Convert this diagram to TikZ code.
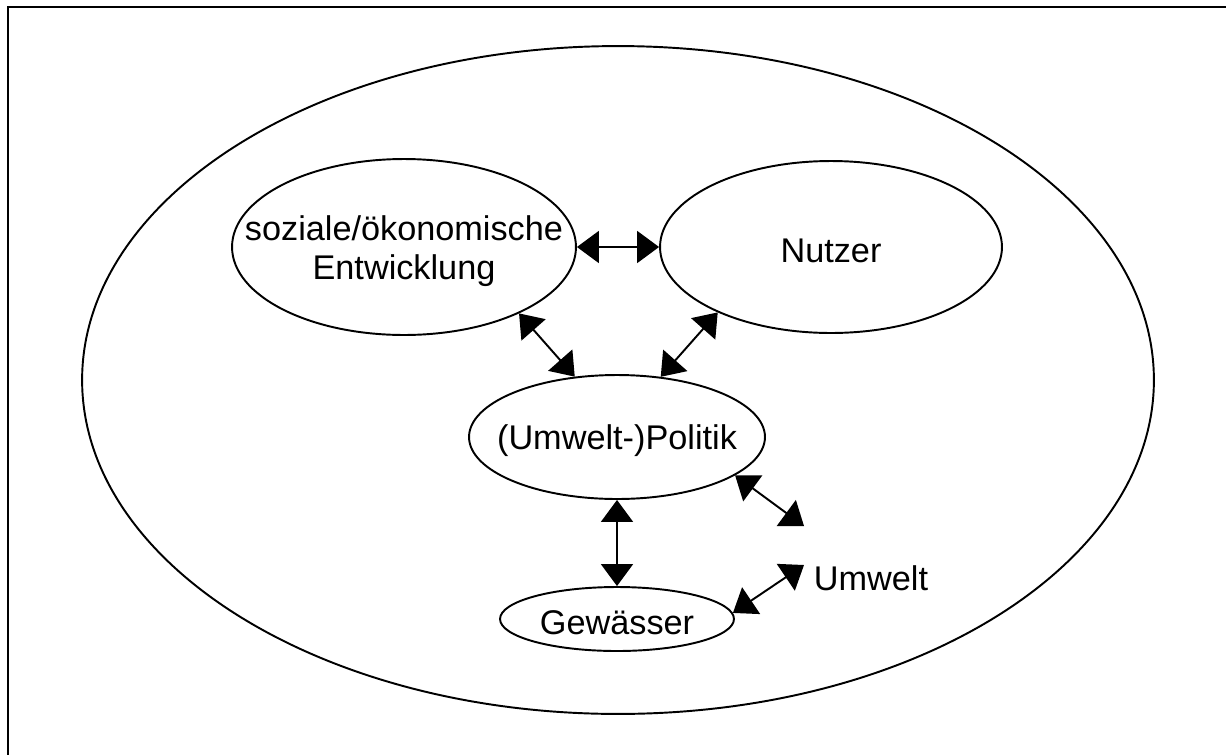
\documentclass[tikz,border=0pt]{standalone}
\usepackage{fontspec}
\setmainfont{Liberation Sans}
\usetikzlibrary{arrows.meta,shapes.geometric}
\tikzset{
  blob/.style={draw,ellipse,line width=1.1pt,inner sep=0pt},
  blobtext/.style={label={[align=center,yshift=-0.08cm]center:#1}},
  biarrow/.style={{Triangle[length=0.44cm,width=0.64cm]}-{Triangle[length=0.44cm,width=0.64cm]},line width=1.1pt}
}
\begin{document}
\begin{tikzpicture}[x=0.02cm,y=-0.02cm,font=\fontsize{19.5}{22}\selectfont]
      \useasboundingbox (0,0) rectangle (1226,754);
      \draw[line width=1.7pt] (8,760) -- (8,7) -- (1232,7);
      \draw
        (618,380) node[blob,minimum width=21.44cm,minimum height=13.36cm] (welt){}
        (404,247) node[blob,minimum width=6.88cm,minimum height=3.52cm,
          blobtext={soziale/ökonomische\\Entwicklung}] (soz){}
        (831,247) node[blob,minimum width=6.84cm,minimum height=3.44cm,
          blobtext={Nutzer}] (nutz){}
        (617,437) node[blob,minimum width=5.92cm,minimum height=2.48cm,
          blobtext={(Umwelt-)Politik}] (pol){}
        (617,619) node[blob,minimum width=4.68cm,minimum height=1.28cm,
          blobtext={Gewässer}] (gew){}
        (871,578) node (umw){Umwelt};
      \coordinate (u1) at (804,526);
      \coordinate (u2) at (804,565);
      \begin{scope}[biarrow]
        \draw (soz.east) to (nutz.west);
        \draw (soz.-30) to (pol.125);
        \draw (nutz.-150) to (pol.54);
        \draw (pol.south) to (gew.north);
        \draw (pol.-18) to (u1);
        \draw (gew.3) to (u2);
      \end{scope}
    \end{tikzpicture}
\end{document}
